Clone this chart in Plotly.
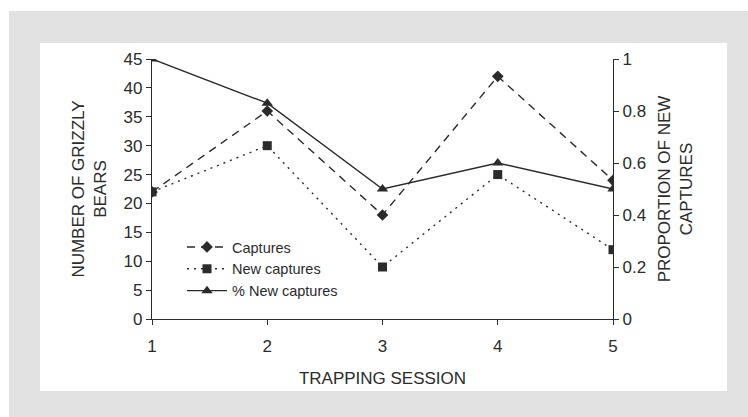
import plotly.graph_objects as go

sessions = [1, 2, 3, 4, 5]
captures = [22, 36, 18, 42, 24]
new_captures = [22, 30, 9, 25, 12]
prop_new = [1.0, 0.83, 0.5, 0.6, 0.5]

ink = "#2b2b2b"
font_family = "Liberation Sans, Arial, sans-serif"

fig = go.Figure()
fig.add_trace(go.Scatter(
    x=sessions, y=captures, name="Captures", mode="lines+markers",
    line=dict(color=ink, width=1.4, dash="8px,6px"),
    marker=dict(symbol="diamond", size=9, color=ink),
))
fig.add_trace(go.Scatter(
    x=sessions, y=new_captures, name="New captures", mode="lines+markers",
    line=dict(color=ink, width=1.4, dash="2px,5px"),
    marker=dict(symbol="square", size=9, color=ink),
))
fig.add_trace(go.Scatter(
    x=sessions, y=prop_new, name="% New captures", mode="lines+markers",
    line=dict(color=ink, width=1.4),
    marker=dict(symbol="triangle-up", size=10, color=ink),
    yaxis="y2",
))

W, H = 748, 417
L, R, T, B = 152, 135, 59, 98
pw, ph = W - L - R, H - T - B

def px(x):
    return (x - L) / pw

def py(y):
    return (H - B - y) / ph

fig.update_layout(
    width=W, height=H,
    margin=dict(l=L, r=R, t=T, b=B),
    paper_bgcolor="white",
    plot_bgcolor="rgba(0,0,0,0)",
    font=dict(family=font_family, size=17, color=ink),
    showlegend=True,
    legend=dict(
        x=px(182), y=py(231), xanchor="left", yanchor="top",
        bgcolor="rgba(0,0,0,0)", font=dict(size=14.5, color=ink),
        tracegroupgap=0, itemwidth=40,
    ),
    xaxis=dict(
        range=[1, 5], tickvals=sessions, showgrid=False, zeroline=False,
        showline=True, linecolor=ink, linewidth=1.3,
        ticks="outside", ticklen=5, tickcolor=ink,
        ticklabelstandoff=6,
        title=dict(text="TRAPPING SESSION", standoff=17, font=dict(size=17)),
    ),
    yaxis=dict(
        range=[0, 45], tickvals=list(range(0, 50, 5)), showgrid=False,
        zeroline=False, showline=True, linecolor=ink, linewidth=1.3,
        ticks="outside", ticklen=5, tickcolor=ink,
        title=dict(text="NUMBER OF GRIZZLY<br>BEARS", standoff=12, font=dict(size=17)),
    ),
    yaxis2=dict(
        range=[0, 1], tickvals=[0, 0.2, 0.4, 0.6, 0.8, 1],
        ticktext=["0", "0.2", "0.4", "0.6", "0.8", "1"],
        overlaying="y", side="right", showgrid=False, zeroline=False,
        showline=True, linecolor=ink, linewidth=1.3,
        ticks="outside", ticklen=5, tickcolor=ink,
        title=dict(text="PROPORTION OF NEW<br>CAPTURES", standoff=12, font=dict(size=17)),
    ),
    shapes=[
        dict(type="rect", xref="paper", yref="paper", layer="below",
             x0=px(9), x1=px(760), y0=py(430), y1=py(11),
             fillcolor="#e2e2e2", line=dict(width=0)),
        dict(type="rect", xref="paper", yref="paper", layer="below",
             x0=px(40), x1=px(727), y0=py(391), y1=py(43),
             fillcolor="white", line=dict(width=0)),
    ],
)

fig.write_html("out.html", config={"displayModeBar": False},
               post_script="document.body.style.margin='0';")
